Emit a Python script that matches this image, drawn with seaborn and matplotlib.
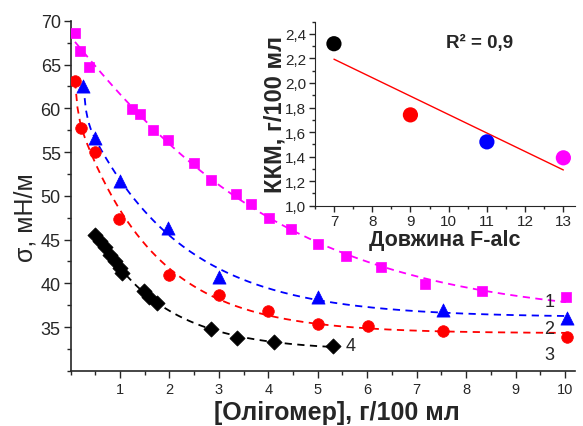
import numpy as np
import pandas as pd
import matplotlib
matplotlib.use("Agg")
import matplotlib.pyplot as plt
import seaborn as sns
from matplotlib.ticker import MultipleLocator, FuncFormatter

# series 1 - magenta squares
x1 = [0.09, 0.19, 0.38, 1.24, 1.41, 1.66, 1.98, 2.49, 2.84, 3.34, 3.64, 4.01, 4.45,
      5.01, 5.57, 6.27, 7.16, 8.33, 10.02]
y1 = [68.6, 66.6, 64.7, 59.9, 59.3, 57.5, 56.4, 53.8, 51.8, 50.2, 49.1, 47.5, 46.2,
      44.5, 43.1, 41.9, 39.9, 39.1, 38.5]
# series 2 - blue triangles
x2 = [0.26, 0.49, 1.0, 1.98, 3.0, 5.01, 7.53, 10.04]
y2 = [62.6, 56.6, 51.7, 46.3, 40.7, 38.4, 37.0, 36.0]
# series 3 - red circles
x3 = [0.09, 0.22, 0.49, 0.99, 2.0, 3.0, 4.0, 5.01, 6.01, 7.53, 10.04]
y3 = [63.1, 57.7, 55.0, 47.3, 41.0, 38.7, 36.8, 35.4, 35.1, 34.6, 33.9]
# series 4 - black diamonds
x4 = [0.5, 0.6, 0.7, 0.8, 0.9, 1.0, 1.05, 1.48, 1.58, 1.75, 2.84, 3.37, 4.11, 5.3]
y4 = [45.5, 44.8, 44.2, 43.2, 42.6, 41.8, 41.2, 39.1, 38.4, 37.8, 34.8, 33.8, 33.3, 32.9]

# inset: CMC vs F-alc chain length
chain_len = [7, 9, 11, 13]
cmc = [2.32, 1.74, 1.52, 1.39]
cmc_colors = ["black", "red", "blue", "magenta"]

sns.set_style("ticks")
plt.rcParams["font.family"] = ["Liberation Sans", "DejaVu Sans"]


def exp_fit(x, y, n=200):
    # two-term exponential decay, time constants by grid search
    x = np.asarray(x, float)
    y = np.asarray(y, float)
    best = None
    for t1 in np.linspace(0.05, 1.5, 40):
        for t2 in np.linspace(0.8, 10, 50):
            A = np.column_stack([np.ones_like(x), np.exp(-x / t1), np.exp(-x / t2)])
            c = np.linalg.lstsq(A, y, rcond=None)[0]
            err = np.sum((A @ c - y) ** 2)
            if best is None or err < best[0]:
                best = (err, t1, t2, c)
    _, t1, t2, c = best
    xs = np.linspace(x.min(), x.max(), n)
    ys = c[0] + c[1] * np.exp(-xs / t1) + c[2] * np.exp(-xs / t2)
    return xs, ys


fig = plt.figure(figsize=(5.83, 4.27), dpi=100)
ax = fig.add_axes([0.121, 0.129, 0.865, 0.82])

series = [
    (x1, y1, "magenta", "s", 55),
    (x2, y2, "blue", "^", 90),
    (x3, y3, "red", "o", 70),
    (x4, y4, "black", "D", 60),
]
for xs, ys, col, mk, sz in series:
    fx, fy = exp_fit(xs, ys)
    sns.lineplot(x=fx, y=fy, ax=ax, color=col, lw=1.3, linestyle=(0, (4, 3)))
    sns.scatterplot(x=xs, y=ys, ax=ax, color=col, marker=mk, s=sz,
                    edgecolor=col, linewidth=0.5, zorder=3)

ax.text(9.68, 37.9, "1", fontsize=13, ha="center", va="center")
ax.text(9.68, 34.9, "2", fontsize=13, ha="center", va="center")
ax.text(9.68, 31.9, "3", fontsize=13, ha="center", va="center")
ax.text(5.67, 32.9, "4", fontsize=13, ha="center", va="center")

ax.set_xlim(0, 10.2)
ax.set_ylim(30, 70)
ax.xaxis.set_major_locator(MultipleLocator(1))
ax.xaxis.set_minor_locator(MultipleLocator(0.5))
ax.yaxis.set_major_locator(MultipleLocator(5))
ax.yaxis.set_minor_locator(MultipleLocator(2.5))
ax.set_xticks(range(1, 11))
ax.set_yticks(range(35, 71, 5))
ax.tick_params(axis="x", labelsize=10.5, length=5, width=1, pad=3)
ax.tick_params(axis="y", labelsize=13, length=5, width=1, pad=2)
ax.tick_params(which="minor", length=3, width=1)
sns.despine(ax=ax)
for s in ["left", "bottom"]:
    ax.spines[s].set_linewidth(1.2)
ax.set_xlabel("[Олігомер], г/100 мл", fontsize=18, fontweight="bold")
ax.set_ylabel("σ, мН/м", fontsize=18)
ax.xaxis.set_label_coords(0.529, -0.082)
ax.yaxis.set_label_coords(-0.066, 0.44)

# inset
ins = fig.add_axes([0.540, 0.516, 0.446, 0.431])
ins.set_facecolor("white")
df_in = pd.DataFrame({"len": chain_len, "cmc": cmc})
sns.regplot(data=df_in, x="len", y="cmc", ax=ins, scatter=False, ci=None,
            truncate=True, line_kws={"color": "red", "lw": 1})
sns.scatterplot(data=df_in, x="len", y="cmc", ax=ins, hue="len",
                palette=cmc_colors, s=120, edgecolor="none", legend=False, zorder=3)
ins.text(10.8, 2.33, "R² = 0,9", fontsize=13.5, fontweight="bold", ha="center", va="center")
ins.set_xlim(6.5, 13.3)
ins.set_ylim(1.0, 2.5)
ins.xaxis.set_major_locator(MultipleLocator(1))
ins.xaxis.set_minor_locator(MultipleLocator(0.5))
ins.yaxis.set_major_locator(MultipleLocator(0.2))
ins.yaxis.set_minor_locator(MultipleLocator(0.1))
ins.set_yticks(np.arange(1.0, 2.41, 0.2))
ins.yaxis.set_major_formatter(FuncFormatter(lambda v, p: f"{v:.1f}".replace(".", ",")))
ins.tick_params(labelsize=11, length=4, width=1, pad=2)
ins.tick_params(which="minor", length=2.5, width=1)
sns.despine(ax=ins)
ins.set_xlabel("Довжина F-alc", fontsize=15.5, fontweight="bold", labelpad=1)
ins.set_ylabel("ККМ, г/100 мл", fontsize=17, fontweight="bold", labelpad=-1)

fig.savefig("out.png", dpi=100)
